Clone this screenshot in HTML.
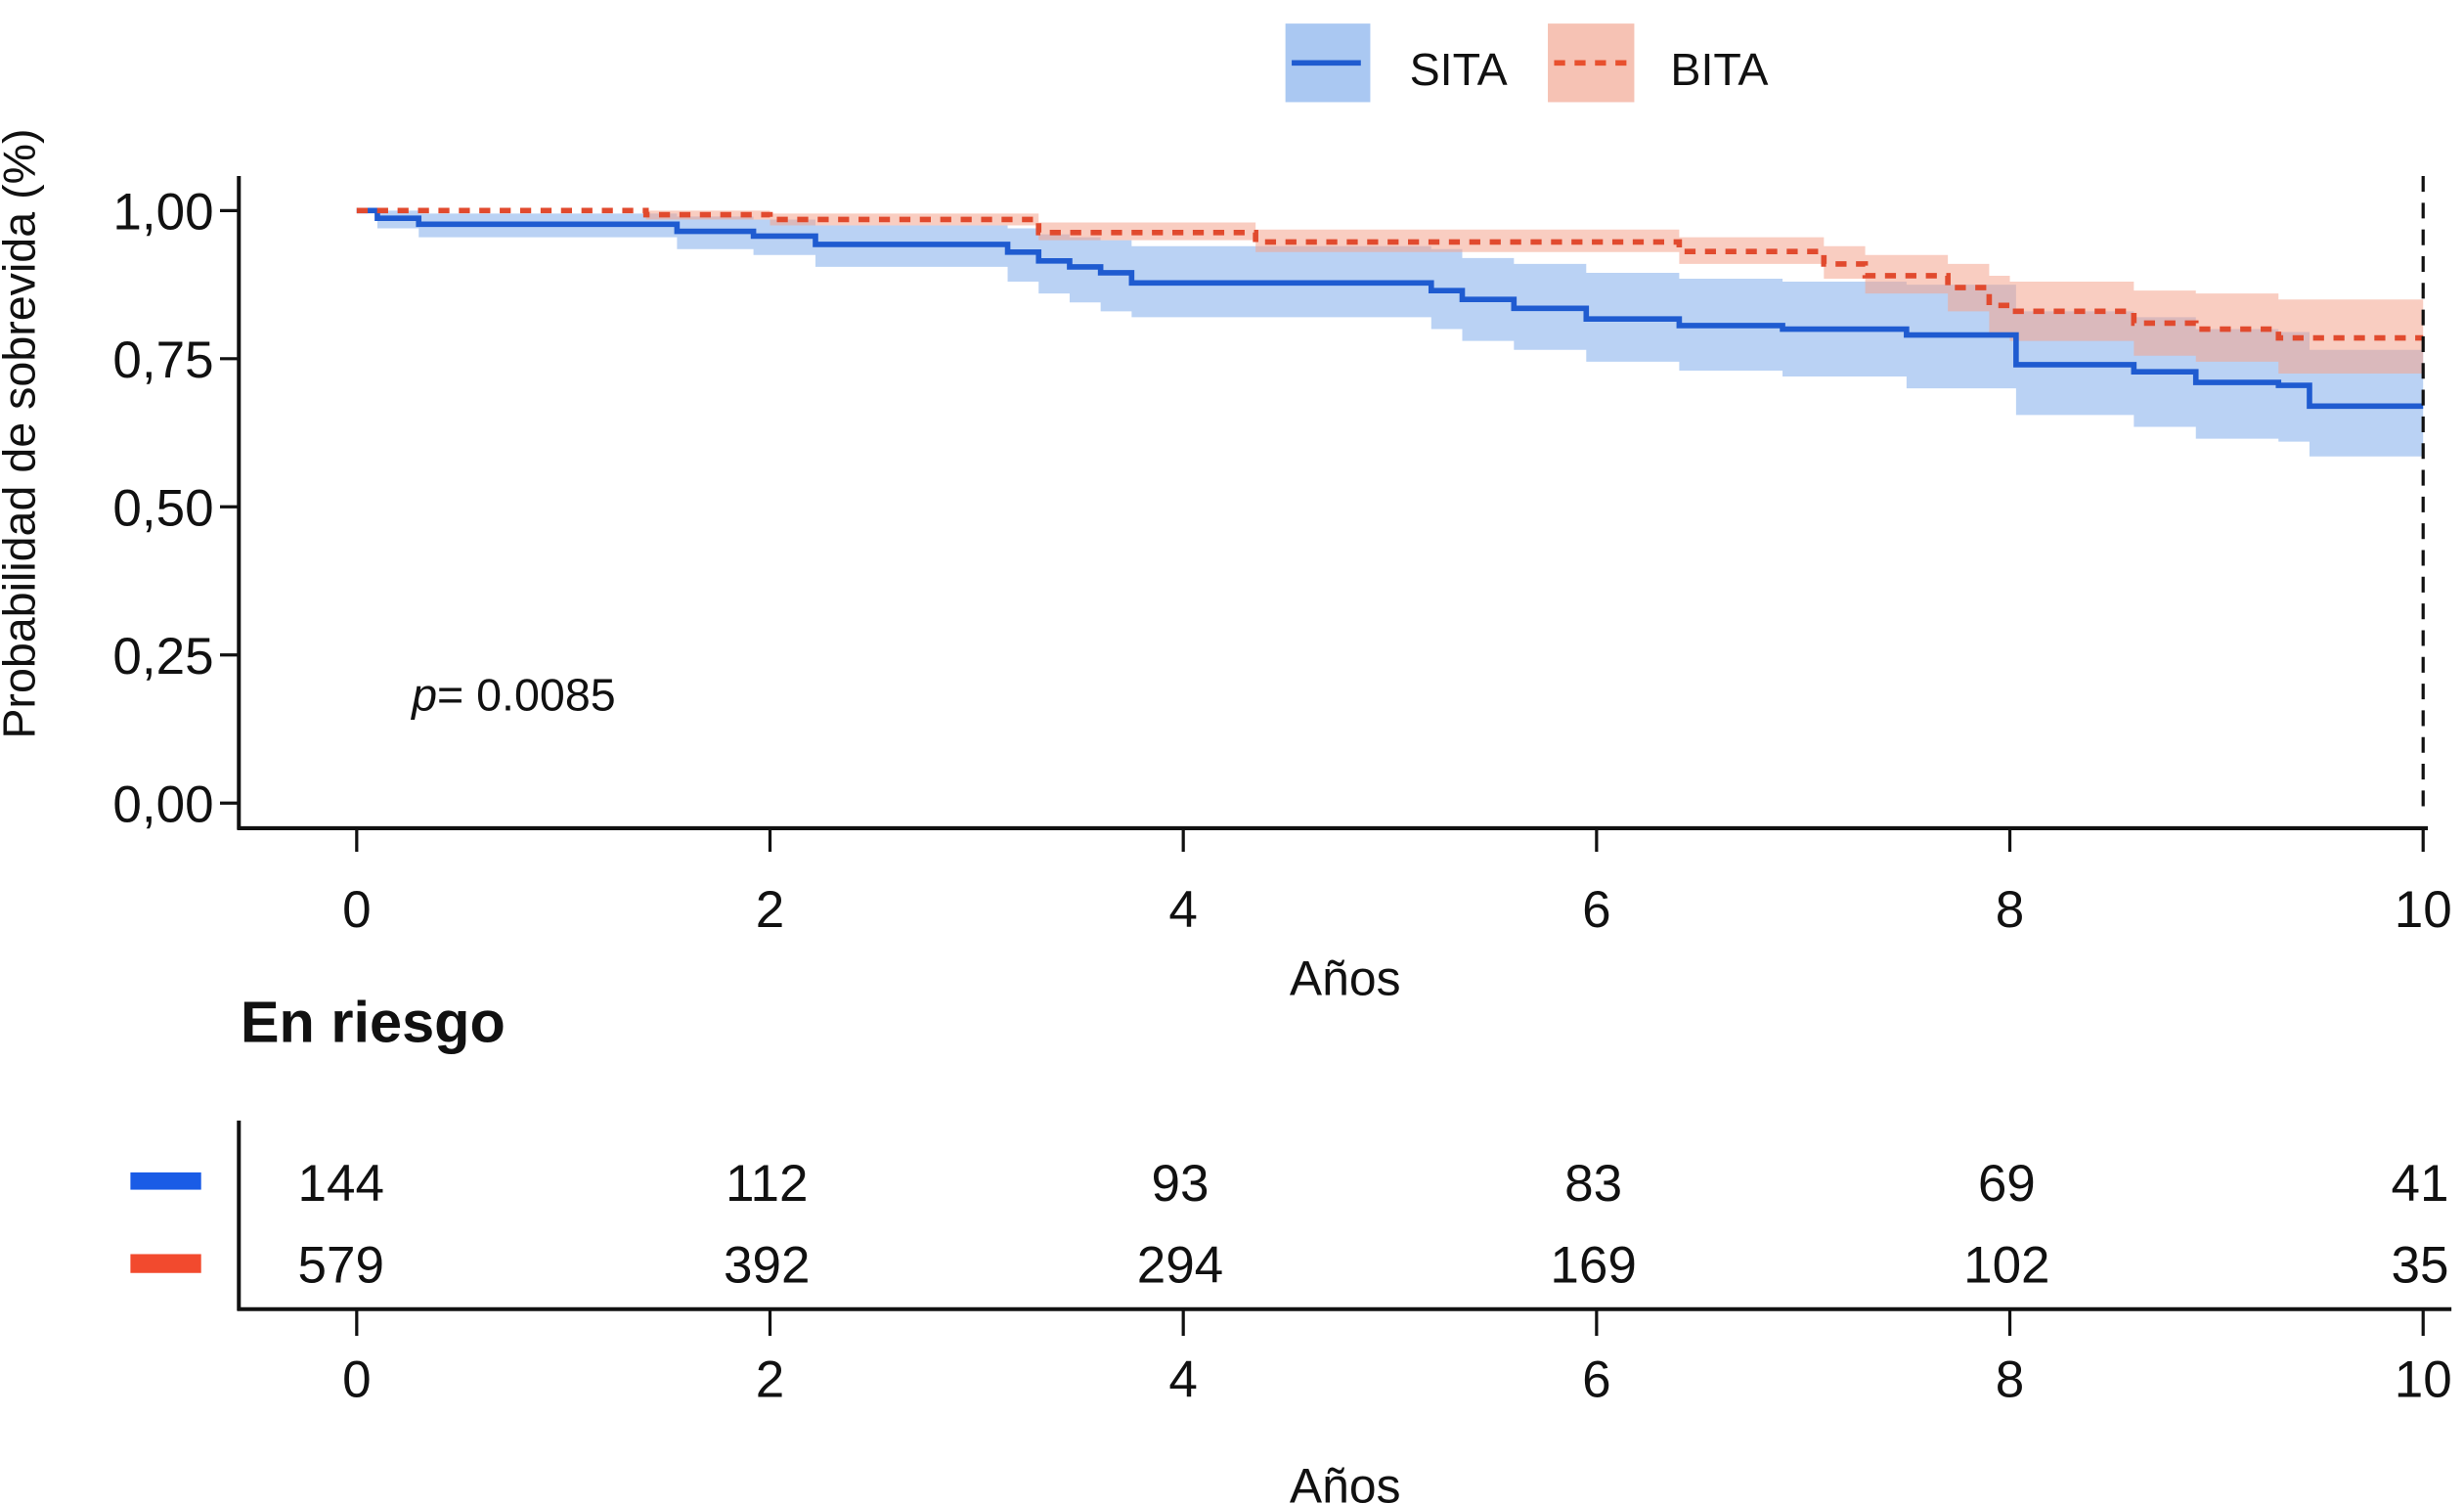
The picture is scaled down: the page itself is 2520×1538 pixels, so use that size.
<!DOCTYPE html>
<html><head><meta charset="utf-8"><style>
html,body{margin:0;padding:0;background:#fff;}
svg{display:block;}
text{font-family:"Liberation Sans","DejaVu Sans",sans-serif;fill:#111;}
</style></head><body>
<svg id="chart" width="2520" height="1538" viewBox="0 0 1568 957" preserveAspectRatio="none" xmlns="http://www.w3.org/2000/svg">
<g id="legend">
  <rect x="818" y="15" width="54" height="50" fill="#aac8f2"/>
  <line x1="822" y1="40" x2="866" y2="40" stroke="#1f5bd0" stroke-width="3.5"/>
  <text x="897" y="54" font-size="29">SITA</text>
  <rect x="985" y="15" width="55" height="50" fill="#f6c2b4"/>
  <line x1="989" y1="40" x2="1035" y2="40" stroke="#e8502e" stroke-width="3.5" stroke-dasharray="7,6"/>
  <text x="1063" y="54" font-size="29">BITA</text>
</g>
<g id="plot"></g>
<g id="axes"></g>
<text transform="translate(22,276) rotate(-90)" text-anchor="middle" font-size="29">Probabilidad de sobrevida (%)</text>
<text x="262" y="452" font-size="29"><tspan font-style="italic">p</tspan>= 0.0085</text>
<text x="856" y="633" text-anchor="middle" font-size="31">Años</text>
<text x="153" y="663" font-size="37" font-weight="bold">En riesgo</text>
<rect x="83" y="746" width="45" height="11" fill="#1a5ce6"/>
<rect x="83" y="798" width="45" height="12" fill="#f24a2e"/>
<g id="risk"></g>
<text x="856" y="956" text-anchor="middle" font-size="31">Años</text>
</svg>
<script>
const xTicks = [0, 2, 4, 6, 8, 10];
const yTicks = [0, 0.25, 0.5, 0.75, 1.0];
const yTickLabels = ["0,00", "0,25", "0,50", "0,75", "1,00"];
const sitaTimes = [0, 0.1, 0.3, 1.55, 1.92, 2.22, 3.15, 3.3, 3.45, 3.6, 3.75, 5.2, 5.35, 5.6, 5.95, 6.4, 6.9, 7.5, 8.03, 8.6, 8.9, 9.3, 9.45];
const sitaSurv = [1.0, 0.987, 0.977, 0.965, 0.957, 0.943, 0.93, 0.915, 0.905, 0.895, 0.878, 0.865, 0.85, 0.835, 0.817, 0.806, 0.8, 0.79, 0.74, 0.728, 0.71, 0.705, 0.67];
const sitaLower = [1.0, 0.97, 0.955, 0.935, 0.925, 0.905, 0.88, 0.86, 0.845, 0.83, 0.82, 0.8, 0.78, 0.765, 0.745, 0.73, 0.72, 0.7, 0.655, 0.635, 0.615, 0.61, 0.585];
const sitaUpper = [1.0, 1.0, 0.995, 0.99, 0.985, 0.975, 0.97, 0.96, 0.955, 0.95, 0.94, 0.935, 0.92, 0.91, 0.895, 0.885, 0.88, 0.875, 0.83, 0.82, 0.8, 0.795, 0.765];
const bitaTimes = [0, 1.4, 2.0, 3.3, 4.35, 6.4, 7.1, 7.3, 7.7, 7.9, 8.0, 8.6, 8.9, 9.3];
const bitaSurv = [1.0, 0.993, 0.985, 0.963, 0.947, 0.931, 0.91, 0.89, 0.87, 0.84, 0.83, 0.81, 0.8, 0.785];
const bitaLower = [1.0, 0.985, 0.975, 0.95, 0.93, 0.91, 0.885, 0.86, 0.83, 0.79, 0.78, 0.755, 0.745, 0.725];
const bitaUpper = [1.0, 1.0, 0.995, 0.98, 0.968, 0.955, 0.94, 0.925, 0.91, 0.89, 0.88, 0.865, 0.86, 0.85];
const riskSita = [144, 112, 93, 83, 69, 41];
const riskBita = [579, 392, 294, 169, 102, 35];

const NS = "http://www.w3.org/2000/svg";
const X0 = 227, XS = (1542 - 227) / 10;
const Y0 = 511, YS = (511 - 134);
function xs(t) { return X0 + t * XS; }
function ys(v) { return Y0 - v * YS; }
function mk(tag, attrs, parent) {
  const e = document.createElementNS(NS, tag);
  for (const k in attrs) e.setAttribute(k, attrs[k]);
  parent.appendChild(e);
  return e;
}
function stepPath(times, vals, tEnd) {
  let d = "M" + xs(times[0]) + "," + ys(vals[0]);
  for (let i = 1; i < times.length; i++) {
    d += "H" + xs(times[i]) + "V" + ys(vals[i]);
  }
  return d + "H" + xs(tEnd);
}
function bandPath(times, lo, hi, tEnd) {
  let d = "M" + xs(times[0]) + "," + ys(hi[0]);
  for (let i = 1; i < times.length; i++) d += "H" + xs(times[i]) + "V" + ys(hi[i]);
  d += "H" + xs(tEnd) + "V" + ys(lo[lo.length - 1]);
  for (let i = times.length - 1; i >= 1; i--) d += "H" + xs(times[i]) + "V" + ys(lo[i - 1]);
  d += "H" + xs(times[0]) + "Z";
  return d;
}
const plot = document.getElementById("plot");
const bs = mk("path", {d: bandPath(sitaTimes, sitaLower, sitaUpper, 10), fill: "#9dbff0", "fill-opacity": "0.7"}, plot);


const bb = mk("path", {d: bandPath(bitaTimes, bitaLower, bitaUpper, 10), fill: "#f4a48e", "fill-opacity": "0.55"}, plot);


const ls = mk("path", {d: stepPath(sitaTimes, sitaSurv, 10), fill: "none", stroke: "#1f5bd0", "stroke-width": "3.5"}, plot);


const lb = mk("path", {d: stepPath(bitaTimes, bitaSurv, 10), fill: "none", stroke: "#e14a2e", "stroke-width": "3.5", "stroke-dasharray": "7,6"}, plot);


const vl = mk("line", {x1: xs(10), y1: 112, x2: xs(10), y2: 516, stroke: "#111", "stroke-width": "2", "stroke-dasharray": "10,7"}, plot);



const axes = document.getElementById("axes");
const ya = mk("line", {x1: 152, y1: 112, x2: 152, y2: 528, stroke: "#111", "stroke-width": "2.5"}, axes);


const xa = mk("line", {x1: 151, y1: 527, x2: 1545, y2: 527, stroke: "#111", "stroke-width": "2.5"}, axes);


yTicks.forEach((v, i) => {
  const t = mk("line", {x1: 140, y1: ys(v), x2: 152, y2: ys(v), stroke: "#111", "stroke-width": "2"}, axes);
  
  
  const l = mk("text", {x: 136, y: ys(v) + 12, "text-anchor": "end", "font-size": "33"}, axes);
  l.textContent = yTickLabels[i];
  
  
});
xTicks.forEach(v => {
  const t = mk("line", {x1: xs(v), y1: 527, x2: xs(v), y2: 542, stroke: "#111", "stroke-width": "2"}, axes);
  
  
  const l = mk("text", {x: xs(v), y: 590, "text-anchor": "middle", "font-size": "33"}, axes);
  l.textContent = String(v);
  
  
});

const risk = document.getElementById("risk");
const rv = mk("line", {x1: 152, y1: 713, x2: 152, y2: 834, stroke: "#111", "stroke-width": "2.5"}, risk);


const rh = mk("line", {x1: 151, y1: 833, x2: 1560, y2: 833, stroke: "#111", "stroke-width": "2.5"}, risk);


xTicks.forEach((v, i) => {
  const t = mk("line", {x1: xs(v), y1: 833, x2: xs(v), y2: 850, stroke: "#111", "stroke-width": "2"}, risk);
  
  
  const l = mk("text", {x: xs(v), y: 889, "text-anchor": "middle", "font-size": "33"}, risk);
  l.textContent = String(v);
  
  
  const dx = i === 0 ? -10 : -2;
  const a = mk("text", {x: xs(v) + dx, y: 764, "text-anchor": "middle", "font-size": "33"}, risk);
  a.textContent = String(riskSita[i]);
  
  
  const b = mk("text", {x: xs(v) + dx, y: 816, "text-anchor": "middle", "font-size": "33"}, risk);
  b.textContent = String(riskBita[i]);
  
  
});
</script>
</body></html>
